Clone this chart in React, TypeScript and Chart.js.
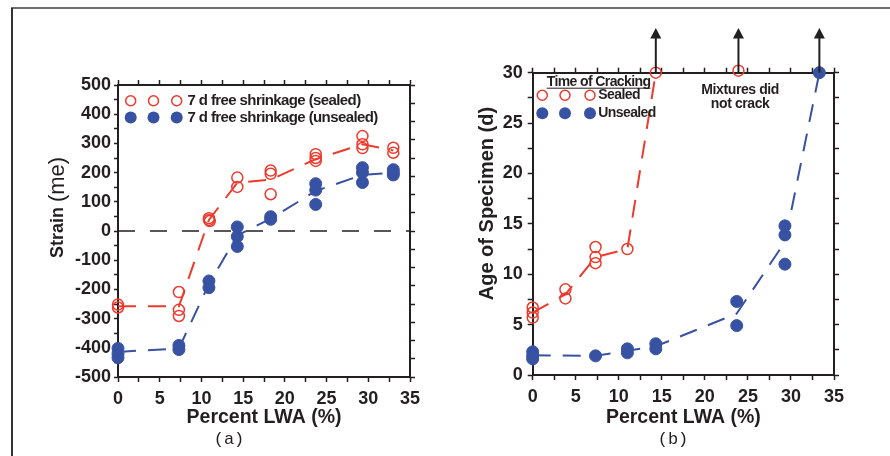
import React, { useEffect, useRef } from 'react';
import { Chart, registerables } from 'chart.js';

Chart.register(...registerables);

// ---------- data: panel (a) free shrinkage strain ----------
const lwaSealedA = [0, 0, 7.3, 7.3, 7.3, 10.9, 10.9, 11, 14.3, 14.3, 18.3, 18.3, 18.3, 23.7, 23.7, 23.7, 29.3, 29.3, 29.3, 33, 33];
const strainSealed = [-252, -262, -209, -270, -291, 44, 38, 34, 183, 151, 207, 196, 126, 263, 250, 240, 325, 297, 284, 285, 268];
const lwaUnsealedA = [0, 0, 0, 7.3, 7.3, 10.9, 10.9, 14.3, 14.3, 14.3, 18.3, 18.3, 23.7, 23.7, 23.7, 29.3, 29.3, 29.3, 33, 33, 33];
const strainUnsealed = [-402, -420, -434, -392, -406, -171, -194, 14, -19, -53, 49, 40, 162, 140, 91, 217, 200, 166, 210, 200, 192];
const fitLwaA = [0, 7.3, 10.9, 14.3, 18.3, 23.7, 29.3, 33];
const fitStrainSealed = [-258, -258, 38, 165, 176, 246, 297, 276];
const fitStrainUnsealed = [-414, -402, -182, -15, 42, 137, 192, 200];
const zeroLineX = [0, 35];
const zeroLineY = [0, 0];
const legendA = ['7 d free shrinkage (sealed)', '7 d free shrinkage (unsealed)'];

// ---------- data: panel (b) time of cracking ----------
const lwaSealedB = [0, 0, 0, 3.8, 3.8, 7.3, 7.3, 7.3, 11, 14.3, 23.9];
const ageSealed = [6.7, 6.2, 5.7, 8.5, 7.6, 12.7, 11.7, 11.1, 12.5, 30, 30.2];
const lwaUnsealedB = [0, 0, 0, 7.3, 11, 11, 14.3, 14.3, 23.7, 23.7, 29.3, 29.3, 29.3, 33.3];
const ageUnsealed = [2.3, 1.9, 1.6, 1.9, 2.6, 2.2, 3.1, 2.6, 7.3, 4.9, 14.8, 13.9, 11.0, 30];
const fitLwaSealedB = [0, 3.8, 7.3, 11, 14.3];
const fitAgeSealed = [6.2, 8.0, 11.7, 12.5, 30];
const fitLwaUnsealedB = [0, 7.3, 11, 14.3, 23.7, 29.3, 33.3];
const fitAgeUnsealed = [1.95, 1.9, 2.4, 2.85, 6.1, 13.2, 30];
const arrowLwa = [14.3, 23.9, 33.3];
const legendBTitle = 'Time of Cracking';
const legendB = ['Sealed', 'Unsealed'];
const noteB = ['Mixtures did', 'not crack'];

// ---------- styles ----------
const RED = '#ee3a2c';
const BLUE = '#3852a3';
const INK = '#231f20';
const FONT = "'Liberation Sans', Arial, sans-serif";
const MONO = "'Liberation Mono', 'Courier New', monospace";

const pts = (xs: number[], ys: number[]) => xs.map((x, i) => ({ x, y: ys[i] }));

function scale(o: any) {
  const horizontal = o.position === 'top' || o.position === 'bottom';
  return {
    type: 'linear',
    position: o.position,
    min: o.min,
    max: o.max,
    grid: {
      display: true,
      drawOnChartArea: false,
      drawTicks: true,
      tickLength: o.tickLength ?? 5,
      tickWidth: 1.5,
      tickColor: INK,
    },
    border: { display: true, color: INK, width: 2 },
    ticks: {
      display: !!o.labels,
      stepSize: o.step,
      autoSkip: false,
      maxRotation: 0,
      padding: o.padding ?? 3,
      color: INK,
      font: { family: FONT, size: 18, weight: 'bold' },
      callback: (v: number) => {
        const r = v / o.labelEvery;
        return Math.abs(r - Math.round(r)) < 1e-6 ? String(v) : '';
      },
    },
    title: o.title
      ? {
          display: true,
          text: o.title,
          color: INK,
          font: { family: FONT, size: 19.5, weight: 'bold' },
          padding: { top: 0, bottom: 0 },
        }
      : { display: false },
    afterFit: (s: any) => {
      if (horizontal) s.height = o.size;
      else s.width = o.size;
    },
  };
}

function yTitlePlugin(id: string, parts: { text: string; font: string }[], dx: number, dy: number) {
  return {
    id,
    afterDraw(chart: any) {
      const { ctx, chartArea: ca } = chart;
      ctx.save();
      ctx.fillStyle = INK;
      ctx.textBaseline = 'middle';
      ctx.textAlign = 'left';
      const widths = parts.map((p) => {
        ctx.font = p.font;
        return ctx.measureText(p.text).width;
      });
      const total = widths.reduce((a, b) => a + b, 0);
      ctx.translate(ca.left + dx, (ca.top + ca.bottom) / 2 + dy);
      ctx.rotate(-Math.PI / 2);
      let x = -total / 2;
      parts.forEach((p, i) => {
        ctx.font = p.font;
        ctx.fillText(p.text, x, 0);
        x += widths[i];
      });
      ctx.restore();
    },
  };
}

function drawMarker(ctx: any, x: number, y: number, filled: boolean) {
  ctx.beginPath();
  if (filled) {
    ctx.arc(x, y, 6, 0, Math.PI * 2);
    ctx.fillStyle = BLUE;
    ctx.fill();
  } else {
    ctx.arc(x, y, 5, 0, Math.PI * 2);
    ctx.strokeStyle = RED;
    ctx.lineWidth = 1.5;
    ctx.stroke();
  }
}

const legendPluginA = {
  id: 'legendA',
  afterDraw(chart: any) {
    const { ctx, chartArea: ca } = chart;
    ctx.save();
    const rows = [ca.top + 15.7, ca.top + 32.5];
    const xs = [12.7, 35.5, 58.7].map((d) => ca.left + d);
    rows.forEach((y, r) => {
      xs.forEach((x) => drawMarker(ctx, x, y, r === 1));
      ctx.font = `bold 15px ${FONT}`;
      (ctx as any).letterSpacing = '-0.6px';
      ctx.fillStyle = INK;
      ctx.textBaseline = 'middle';
      ctx.textAlign = 'left';
      ctx.fillText(legendA[r], ca.left + 69.5, y);
    });
    ctx.restore();
  },
};

const legendPluginB = {
  id: 'legendB',
  afterDraw(chart: any) {
    const { ctx, chartArea: ca } = chart;
    ctx.save();
    ctx.fillStyle = INK;
    ctx.textAlign = 'left';
    ctx.textBaseline = 'alphabetic';
    ctx.font = `bold 14px ${FONT}`;
    (ctx as any).letterSpacing = '-0.6px';
    const tx = ca.left + 14;
    const ty = ca.top + 13;
    ctx.fillText(legendBTitle, tx, ty);
    const tw = ctx.measureText(legendBTitle).width;
    ctx.strokeStyle = INK;
    ctx.lineWidth = 1;
    ctx.beginPath();
    ctx.moveTo(tx, ty + 2.5);
    ctx.lineTo(tx + tw, ty + 2.5);
    ctx.stroke();
    const rows = [ca.top + 22.5, ca.top + 40.6];
    const xs = [9.6, 32.3, 57.3].map((d) => ca.left + d);
    rows.forEach((y, r) => {
      xs.forEach((x) => drawMarker(ctx, x, y, r === 1));
      ctx.fillStyle = INK;
      ctx.textBaseline = 'middle';
      ctx.fillText(legendB[r], ca.left + 65.6, y);
    });
    // note
    ctx.font = `bold 14px ${FONT}`;
    (ctx as any).letterSpacing = '-0.4px';
    ctx.textAlign = 'center';
    ctx.textBaseline = 'alphabetic';
    const cx = chart.scales.x.getPixelForValue(24.1);
    ctx.fillText(noteB[0], cx, ca.top + 20.8);
    ctx.fillText(noteB[1], cx, ca.top + 34.8);
    ctx.restore();
  },
};

const arrowPlugin = {
  id: 'arrows',
  afterDraw(chart: any) {
    const { ctx, chartArea: ca, scales } = chart;
    ctx.save();
    ctx.strokeStyle = INK;
    ctx.fillStyle = INK;
    ctx.lineWidth = 2;
    arrowLwa.forEach((v) => {
      const px = scales.x.getPixelForValue(v);
      const base = scales.y.getPixelForValue(30);
      const tip = ca.top - 44.7;
      ctx.beginPath();
      ctx.moveTo(px, base);
      ctx.lineTo(px, tip + 9);
      ctx.stroke();
      ctx.beginPath();
      ctx.moveTo(px, tip);
      ctx.lineTo(px - 5.5, tip + 10.5);
      ctx.lineTo(px + 5.5, tip + 10.5);
      ctx.closePath();
      ctx.fill();
    });
    ctx.restore();
  },
};

const sealedStyle = {
  pointRadius: 5.5,
  pointBorderWidth: 1.5,
  pointBorderColor: RED,
  pointBackgroundColor: 'rgba(0,0,0,0)',
  borderColor: RED,
  backgroundColor: 'rgba(0,0,0,0)',
  clip: false,
  order: 0,
};
const unsealedStyle = {
  pointRadius: 6,
  pointBorderWidth: 1,
  pointBorderColor: BLUE,
  pointBackgroundColor: BLUE,
  borderColor: BLUE,
  backgroundColor: BLUE,
  clip: false,
  order: 0,
};
const fitStyle = (color: string) => ({
  showLine: true,
  pointRadius: 0,
  borderColor: color,
  borderWidth: 2,
  borderDash: [18, 12],
  order: 1,
});

function configA(): any {
  return {
    type: 'scatter',
    data: {
      datasets: [
        { label: legendA[0], data: pts(lwaSealedA, strainSealed), ...sealedStyle },
        { label: legendA[1], data: pts(lwaUnsealedA, strainUnsealed), ...unsealedStyle },
        { label: 'sealed trend', data: pts(fitLwaA, fitStrainSealed), ...fitStyle(RED) },
        { label: 'unsealed trend', data: pts(fitLwaA, fitStrainUnsealed), ...fitStyle(BLUE) },
        {
          label: 'zero',
          data: pts(zeroLineX, zeroLineY),
          showLine: true,
          pointRadius: 0,
          borderColor: INK,
          borderWidth: 1.5,
          borderDash: [17, 15],
          order: 2,
        },
      ],
    },
    options: {
      responsive: false,
      maintainAspectRatio: false,
      devicePixelRatio: 1,
      animation: false,
      events: [],
      layout: { padding: 0 },
      plugins: {
        legend: { display: false },
        tooltip: { enabled: false },
        title: {
          display: true,
          position: 'bottom',
          text: '(a)',
          color: INK,
          font: { family: MONO, size: 17, weight: 'normal' },
          padding: { top: 0, bottom: 6 },
        },
      },
      scales: {
        x: scale({ position: 'bottom', min: 0, max: 35, step: 2.5, labelEvery: 5, labels: true, size: 52.6, padding: 6, title: 'Percent LWA (%)' }),
        x2: scale({ position: 'top', min: 0, max: 35, step: 2.5, labelEvery: 5, labels: false, size: 85 }),
        y: scale({ position: 'left', min: -500, max: 500, step: 50, labelEvery: 100, labels: true, size: 118, tickLength: 4, padding: 3 }),
        y2: scale({ position: 'right', min: 0, max: 16, step: 1, labelEvery: 1, labels: false, size: 48 }),
      },
    },
    plugins: [
      legendPluginA,
      yTitlePlugin('ytitleA', [
        { text: 'Strain ', font: `bold 18px ${FONT}` },
        { text: '(me)', font: `22px ${FONT}` },
      ], -60, -23.5),
    ],
  };
}

function configB(): any {
  return {
    type: 'scatter',
    data: {
      datasets: [
        { label: legendB[0], data: pts(lwaSealedB, ageSealed), ...sealedStyle },
        { label: legendB[1], data: pts(lwaUnsealedB, ageUnsealed), ...unsealedStyle },
        { label: 'sealed trend', data: pts(fitLwaSealedB, fitAgeSealed), ...fitStyle(RED) },
        { label: 'unsealed trend', data: pts(fitLwaUnsealedB, fitAgeUnsealed), ...fitStyle(BLUE) },
      ],
    },
    options: {
      responsive: false,
      maintainAspectRatio: false,
      devicePixelRatio: 1,
      animation: false,
      events: [],
      layout: { padding: 0 },
      plugins: {
        legend: { display: false },
        tooltip: { enabled: false },
        title: {
          display: true,
          position: 'bottom',
          text: '(b)',
          color: INK,
          font: { family: MONO, size: 17, weight: 'normal' },
          padding: { top: 0, bottom: 6 },
        },
      },
      scales: {
        x: scale({ position: 'bottom', min: 0, max: 35, step: 2.5, labelEvery: 5, labels: true, size: 54.6, padding: 6, title: 'Percent LWA (%)' }),
        x2: scale({ position: 'top', min: 0, max: 35, step: 2.5, labelEvery: 5, labels: false, size: 72.7 }),
        y: scale({ position: 'left', min: 0, max: 30, step: 2.5, labelEvery: 5, labels: true, size: 76.7, tickLength: 5, padding: 5 }),
        y2: scale({ position: 'right', min: 0, max: 30, step: 2.5, labelEvery: 5, labels: false, size: 56 }),
      },
    },
    plugins: [
      legendPluginB,
      arrowPlugin,
      yTitlePlugin('ytitleB', [{ text: 'Age of Specimen (d)', font: `bold 20px ${FONT}` }], -45.7, -20.3),
    ],
  };
}

function ChartCanvas({ make, left, width }: { make: () => any; left: number; width: number }) {
  const ref = useRef<HTMLCanvasElement>(null);
  useEffect(() => {
    const chart = new Chart(ref.current as HTMLCanvasElement, make());
    return () => chart.destroy();
  }, []);
  return (
    <canvas
      ref={ref}
      width={width}
      height={456}
      style={{ position: 'absolute', left, top: 0, width, height: 456 }}
    />
  );
}

export default function App() {
  return (
    <div
      style={{
        position: 'absolute',
        left: 0,
        top: 0,
        width: 890,
        height: 456,
        overflow: 'hidden',
        background: '#ffffff',
      }}
    >
      <div style={{ position: 'absolute', left: 11, top: 7, width: 879, height: 2, background: '#6e6e6e' }} />
      <div style={{ position: 'absolute', left: 11, top: 8, width: 1.5, height: 448, background: '#333333' }} />
      <ChartCanvas make={configA} left={0} width={458} />
      <ChartCanvas make={configB} left={456} width={434} />
    </div>
  );
}
